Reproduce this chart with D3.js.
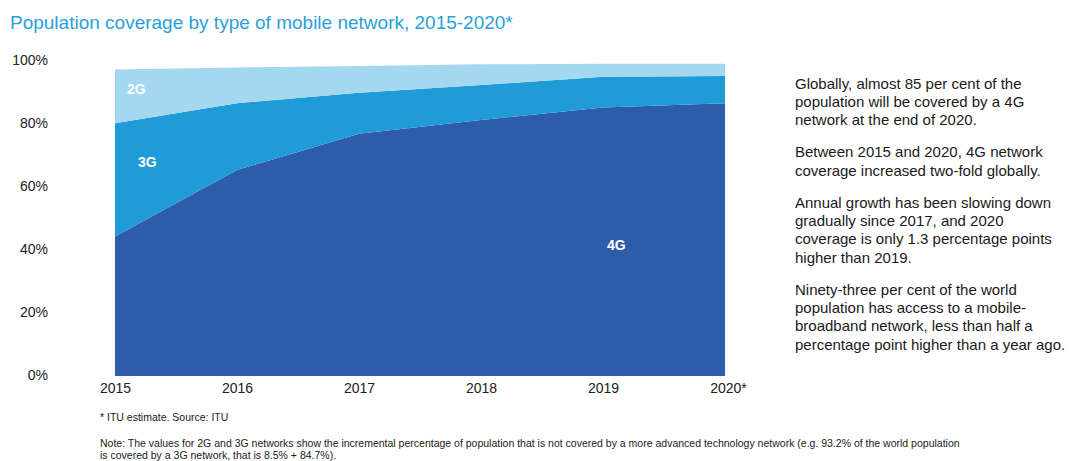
<!DOCTYPE html>
<html>
<head>
<meta charset="utf-8">
<script src="https://cdn.jsdelivr.net/npm/d3@7"></script>
<style>
  html, body { margin: 0; padding: 0; background: #fff; }
  svg { display: block; font-family: "Liberation Sans", Arial, Helvetica, sans-serif; }
</style>
</head>
<body>
<svg id="chart" width="1071" height="461"></svg>
<script>
// ---- Data ----
const years = ["2015", "2016", "2017", "2018", "2019", "2020*"];
const series = ["4G", "3G", "2G"];
// 4G coverage, and incremental 3G / 2G coverage (percentage of population)
const values4G = [43.3, 64.0, 75.2, 79.5, 83.4, 84.7];
const values3G = [35.2, 20.7, 12.8, 10.9, 9.5, 8.5];
const values2G = [16.7, 11.1, 8.3, 6.4, 4.1, 3.8];
const yTicks = [0, 20, 40, 60, 80, 100];
const colors = { "4G": "#2c5caa", "3G": "#1f9bd7", "2G": "#a4d8f0" };

const title = "Population coverage by type of mobile network, 2015-2020*";
const paragraphs = [
  ["Globally, almost 85 per cent of the", "population will be covered by a 4G", "network at the end of 2020."],
  ["Between 2015 and 2020, 4G network", "coverage increased two-fold globally."],
  ["Annual growth has been slowing down", "gradually since 2017, and 2020", "coverage is only 1.3 percentage points", "higher than 2019."],
  ["Ninety-three per cent of the world", "population has access to a mobile-", "broadband network, less than half a", "percentage point higher than a year ago."]
];
const footnote = "* ITU estimate. Source: ITU";
const noteLines = [
  "Note: The values for 2G and 3G networks show the incremental percentage of population that is not covered by a more advanced technology network (e.g. 93.2% of the world population",
  "is covered by a 3G network, that is 8.5% + 84.7%)."
];

// ---- Build table ----
const table = years.map((y, i) => ({ year: y, "4G": values4G[i], "3G": values3G[i], "2G": values2G[i] }));

const svg = d3.select("#chart");

const x = d3.scalePoint().domain(years).range([115, 725]);
const y = d3.scaleLinear().domain([0, 100]).range([376, 54]);
const yLabel = d3.scaleLinear().domain([0, 100]).range([375, 60]);

const stack = d3.stack().keys(series);
const layers = stack(table);

const area = d3.area()
  .x(d => x(d.data.year))
  .y0(d => y(d[0]))
  .y1(d => y(d[1]));

svg.append("g").selectAll("path")
  .data(layers)
  .join("path")
  .attr("d", area)
  .attr("fill", d => colors[d.key]);

// Title
svg.append("text")
  .attr("x", 10).attr("y", 29)
  .attr("font-size", 19)
  .attr("fill", "#2a9fdc")
  .text(title);

// Y axis
const yAxis = d3.axisLeft(yLabel).tickValues(yTicks).tickSize(0).tickPadding(0)
  .tickFormat(d => d + "%");
const gy = svg.append("g").attr("transform", "translate(48,0)").call(yAxis);
gy.select(".domain").remove();
gy.selectAll("text").attr("font-size", 14).attr("fill", "#222")
  .attr("font-family", "Liberation Sans, Arial, sans-serif");

// X axis
const xAxis = d3.axisBottom(x).tickSize(0).tickPadding(0);
const gx = svg.append("g").attr("transform", "translate(0,383)").call(xAxis);
gx.select(".domain").remove();
gx.selectAll("text").attr("font-size", 14).attr("fill", "#222")
  .attr("font-family", "Liberation Sans, Arial, sans-serif")
  .attr("dx", d => d === "2020*" ? 3 : 0);

// Series labels
const seriesLabels = [
  { key: "2G", year: "2015", v: 87.5, dx: 12 },
  { key: "3G", year: "2015", v: 65, dx: 23 },
  { key: "4G", year: "2019", v: 39, dx: 4 }
];
svg.append("g").selectAll("text")
  .data(seriesLabels)
  .join("text")
  .attr("x", d => x(d.year) + d.dx)
  .attr("y", d => y(d.v))
  .attr("font-size", 14)
  .attr("font-weight", "bold")
  .attr("fill", "#fff")
  .text(d => d.key);

// Right-hand commentary
let by = 88.5;
const rt = svg.append("g");
paragraphs.forEach(p => {
  p.forEach(line => {
    rt.append("text").attr("x", 795).attr("y", by)
      .attr("font-size", 15).attr("fill", "#1a1a1a").text(line);
    by += 18.2;
  });
  by += 14.2;
});

// Footnotes
svg.append("text").attr("x", 100).attr("y", 421)
  .attr("font-size", 10.5).attr("fill", "#1a1a1a").text(footnote);
noteLines.forEach((l, i) => {
  svg.append("text").attr("x", 100).attr("y", 447 + i * 11.5)
    .attr("font-size", 10.5).attr("fill", "#1a1a1a").text(l);
});
</script>
</body>
</html>
